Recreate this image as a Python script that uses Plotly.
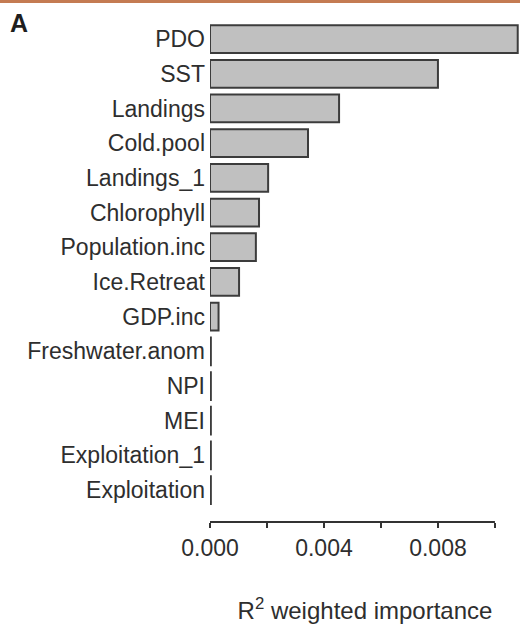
import plotly.graph_objects as go

categories = ["PDO", "SST", "Landings", "Cold.pool", "Landings_1", "Chlorophyll",
              "Population.inc", "Ice.Retreat", "GDP.inc", "Freshwater.anom", "NPI",
              "MEI", "Exploitation_1", "Exploitation"]
importance = [0.0108, 0.0080, 0.00453, 0.00344, 0.00204, 0.00172,
              0.00161, 0.00102, 0.00030, 0.00003, 0.00003,
              0.00003, 0.00003, 0.00003]
label_vals = [0.000, 0.004, 0.008]
label_text = ["0.000", "0.004", "0.008"]
minor_step = 0.002
axis_end = 0.010

FONT = "Liberation Sans, Arial, sans-serif"
TXT = "#2e2e2e"

fig = go.Figure(go.Bar(
    x=importance, y=categories, orientation="h",
    marker=dict(color="#c0c0c0", line=dict(color="#3c3c3c", width=2)),
    width=0.8,
))

fig.update_layout(
    width=520, height=625,
    margin=dict(l=210, r=0, t=20, b=103),
    paper_bgcolor="white", plot_bgcolor="white",
    showlegend=False,
    font=dict(family=FONT, size=23, color=TXT),
    xaxis=dict(
        range=[0, 0.01088], showgrid=False, zeroline=False, showline=False,
        tickvals=label_vals, ticktext=label_text, ticks="outside", ticklen=5,
        tickwidth=2, tickcolor="#333333", automargin=False,
        minor=dict(tick0=0, dtick=minor_step, ticks="outside", ticklen=5,
                   tickwidth=2, tickcolor="#333333", showgrid=False),
        tickfont=dict(size=23, color=TXT),
        title=dict(text="R<sup>2</sup> weighted importance", standoff=42,
                   font=dict(size=24, color=TXT)),
    ),
    yaxis=dict(
        categoryorder="array", categoryarray=categories,
        range=[len(categories) - 1 + 0.92, -0.55],
        showgrid=False, zeroline=False, showline=False, ticks="",
        ticklabelstandoff=4, automargin=False,
        tickfont=dict(size=23, color=TXT),
    ),
    shapes=[
        dict(type="line", xref="x", yref="paper", x0=label_vals[0], x1=axis_end,
             y0=0, y1=0, line=dict(color="#333333", width=2)),
        dict(type="rect", xref="paper", yref="paper", x0=-1, x1=2,
             y0=1 + 17 / 502, y1=1.2, fillcolor="#c47b52", line=dict(width=0),
             layer="above"),
    ],
    annotations=[
        dict(text="<b>A</b>", xref="paper", yref="paper", x=-0.616, y=1 - 3.5 / 502,
             xanchor="center", yanchor="middle", showarrow=False,
             font=dict(size=25, color="#1e1e1e", family=FONT)),
    ],
)

fig.write_html("out.html")
